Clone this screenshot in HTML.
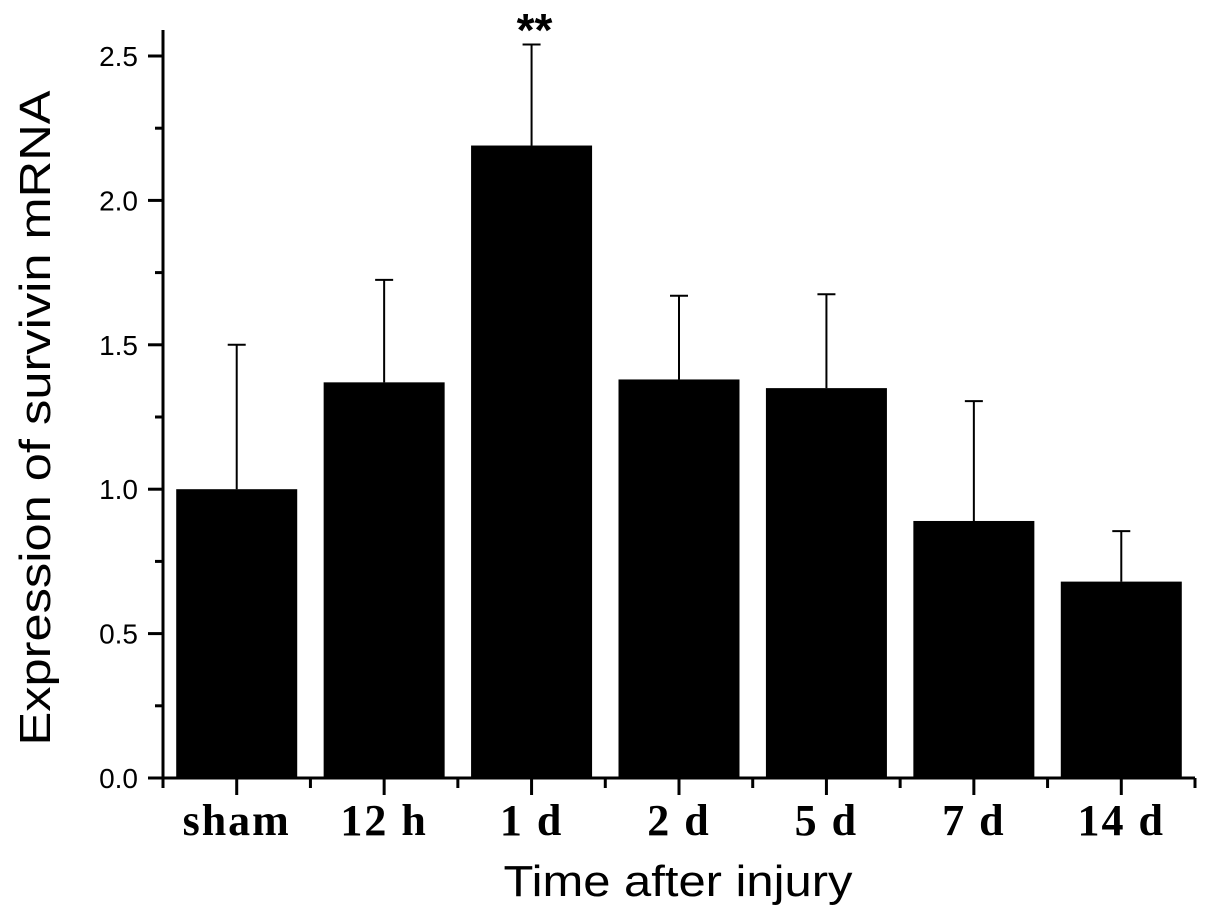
<!DOCTYPE html>
<html><head><meta charset="utf-8"><style>
html,body{margin:0;padding:0;background:#fff;}
svg{display:block;}
</style></head><body>
<svg id="chart" width="1205" height="919" viewBox="0 0 1205 919" xmlns="http://www.w3.org/2000/svg">
<g id="plot"></g>
<text x="0" y="0" transform="translate(50,418) rotate(-90)" text-anchor="middle" font-family="Liberation Sans, sans-serif" font-size="44" textLength="655" lengthAdjust="spacingAndGlyphs">Expression of survivin mRNA</text>
<text x="678" y="896" text-anchor="middle" font-family="Liberation Sans, sans-serif" font-size="44" textLength="349" lengthAdjust="spacingAndGlyphs">Time after injury</text>
</svg>
<script>
const categories = ['sham','12 h','1 d','2 d','5 d','7 d','14 d'];
const means = [1.0, 1.37, 2.19, 1.38, 1.35, 0.89, 0.68];
const errors = [0.50, 0.355, 0.35, 0.29, 0.325, 0.415, 0.175];
const yTicks = [0.0, 0.5, 1.0, 1.5, 2.0, 2.5];
const yTickLabels = ['0.0','0.5','1.0','1.5','2.0','2.5'];
const significance = ['', '', '**', '', '', '', ''];

const NS='http://www.w3.org/2000/svg';
const g=document.getElementById('plot');
const x0=163, x1=1195, yTop=30;
const step=(x1-x0)/categories.length;
const yScale=v=>778-v*(778-56)/2.5;
const xCenter=i=>x0+step*(i+0.5);
const barW=121;
function mk(tag,attrs){const e=document.createElementNS(NS,tag);for(const k in attrs)e.setAttribute(k,attrs[k]);g.appendChild(e);return e;}

categories.forEach((c,i)=>{
  const cx=xCenter(i), top=yScale(means[i]), et=yScale(means[i]+errors[i]);
  const eb=mk('line',{x1:cx,y1:top,x2:cx,y2:et,stroke:'#000','stroke-width':2});
  
  
  const cap=mk('line',{x1:cx-9,y1:et,x2:cx+9,y2:et,stroke:'#000','stroke-width':2});
  
  
  const r=mk('rect',{x:cx-barW/2,y:top,width:barW,height:yScale(0)-top,fill:'#000'});
  
  
  const t=mk('text',{x:cx,y:835,'text-anchor':'middle','font-family':'Liberation Serif, serif','font-size':44,'font-weight':'bold','letter-spacing':2});
  t.textContent=c;
  
  
  const tk=mk('line',{x1:cx,y1:778,x2:cx,y2:795,stroke:'#000','stroke-width':3});
  
  
  if(significance[i]){
    const s=mk('text',{x:cx+3,y:46,'text-anchor':'middle','font-family':'Liberation Sans, sans-serif','font-size':46,'font-weight':'bold'});
    s.textContent=significance[i];
    
    
  }
});
for(let i=0;i<=categories.length;i++){
  const x=x0+step*i;
  const m=mk('line',{x1:x,y1:778,x2:x,y2:788,stroke:'#000','stroke-width':3});
  
  
}
yTicks.forEach((v,i)=>{
  const y=yScale(v);
  const t=mk('line',{x1:148,y1:y,x2:x0,y2:y,stroke:'#000','stroke-width':3});
  
  
  const l=mk('text',{x:138,y:y+10,'text-anchor':'end','font-family':'Liberation Sans, sans-serif','font-size':28});
  l.textContent=yTickLabels[i];
  
  
  if(i<yTicks.length-1){
    const ym=yScale(v+0.25);
    const mt=mk('line',{x1:155,y1:ym,x2:x0,y2:ym,stroke:'#000','stroke-width':3});
    
    
  }
});
const ya=mk('line',{x1:x0,y1:yTop,x2:x0,y2:779.5,stroke:'#000','stroke-width':3});


const xa=mk('line',{x1:x0-1.5,y1:778,x2:x1,y2:778,stroke:'#000','stroke-width':3});


</script>
</body></html>
